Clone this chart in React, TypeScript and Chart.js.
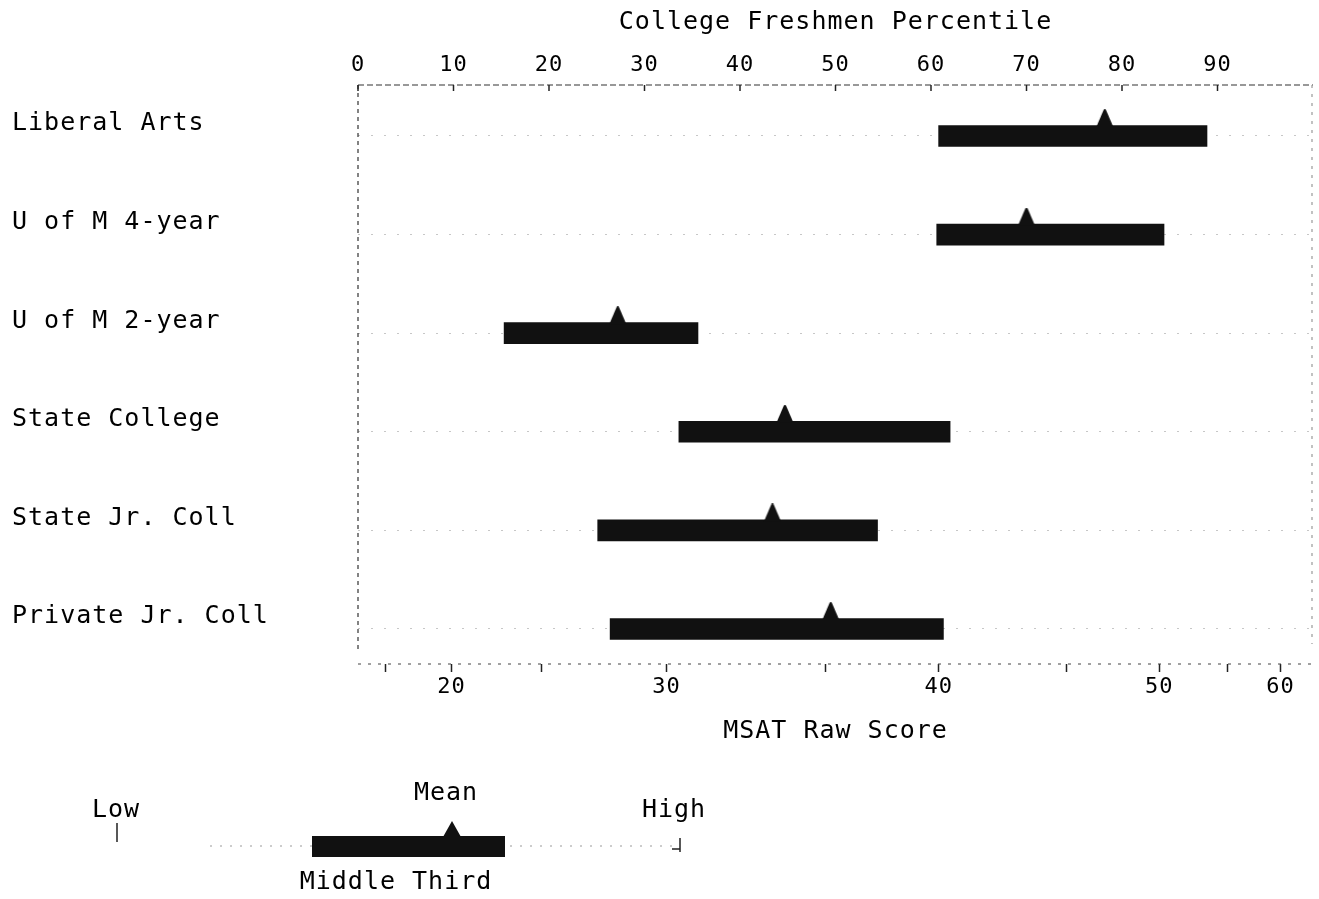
import React, { useEffect, useRef } from "react";
import { Chart, registerables } from "chart.js";

Chart.register(...registerables);

// ---- data ----
const categories = [
  "Liberal Arts",
  "U of M 4-year",
  "U of M 2-year",
  "State College",
  "State Jr. Coll",
  "Private Jr. Coll",
];
// middle third (percentile) – low and high ends of each bar
const middleThirdLow = [60.8, 60.6, 15.3, 33.6, 25.1, 26.4];
const middleThirdHigh = [88.9, 84.4, 35.6, 62.0, 54.4, 61.3];
// mean (percentile)
const meanPercentile = [78.2, 70.0, 27.2, 44.7, 43.4, 49.5];

// top axis: college freshmen percentile ticks
const percentileTicks = [0, 10, 20, 30, 40, 50, 60, 70, 80, 90];
// bottom axis: MSAT raw scores and the percentile at which each falls
const rawScoreTicks = [15, 20, 25, 30, 35, 40, 45, 50, 55, 60];
const rawScorePercentiles = [2.9, 9.8, 19.2, 32.3, 49.0, 60.8, 74.2, 83.9, 91.0, 96.6];
const rawScoreLabeled = [20, 30, 40, 50, 60];

const FONT = "'DejaVu Sans Mono', 'Liberation Mono', monospace";
const INK = "#000";

function makeTriangle(): HTMLCanvasElement {
  const c = document.createElement("canvas");
  c.width = 18;
  c.height = 54;
  const g = c.getContext("2d")!;
  g.fillStyle = "#111";
  g.beginPath();
  g.moveTo(8, 0.5);
  g.quadraticCurveTo(9, -0.5, 10, 0.5);
  g.lineTo(17.5, 18);
  g.lineTo(0.5, 18);
  g.closePath();
  g.fill();
  return c;
}

const spacingPlugin = {
  id: "letterSpacing",
  beforeDraw(chart: any) {
    chart.ctx.letterSpacing = "1px";
  },
};

const framePlugin = {
  id: "frame",
  beforeDatasetsDraw(chart: any) {
    const { ctx, chartArea } = chart;
    const { left, right, top, bottom } = chartArea;
    ctx.save();
    ctx.strokeStyle = "#333";
    ctx.lineWidth = 1.2;
    // top axis line
    ctx.setLineDash([6, 3]);
    ctx.beginPath();
    ctx.moveTo(left, top);
    ctx.lineTo(right, top);
    ctx.stroke();
    // left axis line
    ctx.setLineDash([4, 4]);
    ctx.beginPath();
    ctx.moveTo(left, top);
    ctx.lineTo(left, bottom - 15);
    ctx.stroke();
    // right edge
    ctx.strokeStyle = "#999";
    ctx.setLineDash([3, 6]);
    ctx.beginPath();
    ctx.moveTo(right - 1, top);
    ctx.lineTo(right - 1, bottom - 20);
    ctx.stroke();
    // bottom axis line
    ctx.strokeStyle = "#444";
    ctx.setLineDash([3, 7]);
    ctx.beginPath();
    ctx.moveTo(left, bottom);
    ctx.lineTo(right, bottom);
    ctx.stroke();
    // inward ticks of the top axis
    ctx.setLineDash([]);
    ctx.strokeStyle = "#222";
    ctx.lineWidth = 1.5;
    const xs = chart.scales.x;
    xs.ticks.forEach((t: any) => {
      const px = xs.getPixelForValue(t.value);
      ctx.beginPath();
      ctx.moveTo(px, top);
      ctx.lineTo(px, top + 6);
      ctx.stroke();
    });
    ctx.restore();
  },
};

const keyPlugin = {
  id: "key",
  afterDraw(chart: any) {
    const ctx = chart.ctx;
    ctx.save();
    ctx.letterSpacing = "1px";
    ctx.fillStyle = INK;
    ctx.font = `25px ${FONT}`;
    ctx.textAlign = "center";
    ctx.textBaseline = "middle";
    ctx.fillText("Low", 116, 810);
    ctx.fillText("Mean", 446, 793);
    ctx.fillText("High", 674, 810);
    ctx.fillText("Middle Third", 396, 882);
    // dotted range line
    ctx.strokeStyle = "#999";
    ctx.lineWidth = 1;
    ctx.setLineDash([2, 8]);
    ctx.beginPath();
    ctx.moveTo(210, 846);
    ctx.lineTo(680, 846);
    ctx.stroke();
    ctx.setLineDash([]);
    // low / high ticks
    ctx.strokeStyle = "#222";
    ctx.lineWidth = 1.5;
    ctx.beginPath();
    ctx.moveTo(117, 823);
    ctx.lineTo(117, 842);
    ctx.moveTo(680, 838);
    ctx.lineTo(680, 852);
    ctx.moveTo(672, 849);
    ctx.lineTo(680, 849);
    ctx.stroke();
    // middle third bar
    ctx.fillStyle = "#111";
    ctx.fillRect(312, 836, 193, 21);
    // mean triangle
    ctx.beginPath();
    ctx.moveTo(452, 821);
    ctx.lineTo(461, 837);
    ctx.lineTo(443, 837);
    ctx.closePath();
    ctx.fill();
    ctx.restore();
  },
};

export default function App() {
  const ref = useRef<HTMLCanvasElement | null>(null);

  useEffect(() => {
    document.body.style.margin = "0";
    if (!ref.current) return;
    const tri = makeTriangle();
    const chart = new Chart(ref.current, {
      type: "bar",
      data: {
        datasets: [
          {
            type: "scatter" as any,
            label: "Mean",
            data: meanPercentile.map((m, i) => ({ x: m, y: i })),
            pointStyle: tri as any,
            pointRadius: 5,
            pointHoverRadius: 5,
            showLine: false,
            xAxisID: "x",
            yAxisID: "y",
            order: 1,
          } as any,
          {
            type: "bar",
            label: "Middle Third",
            indexAxis: "y",
            data: middleThirdLow.map((lo, i) => ({ x: [lo, middleThirdHigh[i]], y: i })) as any,
            backgroundColor: "#111",
            borderWidth: 0,
            borderSkipped: false,
            barThickness: 21,
            xAxisID: "x",
            yAxisID: "y",
            order: 2,
          } as any,
        ],
      },
      options: {
        animation: false,
        responsive: false,
        devicePixelRatio: 1,
        indexAxis: "y",
        layout: { padding: { left: 12, right: 1, top: 0, bottom: 145 } },
        plugins: {
          legend: { display: false },
          tooltip: { enabled: false },
        },
        scales: {
          x: {
            type: "linear",
            position: "top",
            min: 0,
            max: 100,
            offset: false,
            afterBuildTicks: (s: any) => {
              s.ticks = percentileTicks.map((v) => ({ value: v }));
            },
            ticks: {
              font: { family: FONT, size: 22 },
              color: INK,
              padding: 7,
              autoSkip: false,
              maxRotation: 0,
            },
            grid: { display: false, drawTicks: false, offset: false },
            border: { display: false },
            title: {
              display: true,
              text: "College Freshmen Percentile",
              font: { family: FONT, size: 25 },
              color: INK,
              padding: { top: 7, bottom: 0 },
            },
            afterFit: (s: any) => {
              s.height = 85;
            },
          },
          x2: {
            type: "linear",
            position: "bottom",
            min: 0,
            max: 100,
            offset: false,
            afterBuildTicks: (s: any) => {
              s.ticks = rawScorePercentiles.map((v) => ({ value: v }));
            },
            ticks: {
              callback: (_v: any, i: number) =>
                rawScoreLabeled.includes(rawScoreTicks[i]) ? String(rawScoreTicks[i]) : "",
              font: { family: FONT, size: 22 },
              color: INK,
              padding: 2,
              autoSkip: false,
              maxRotation: 0,
            },
            grid: {
              drawOnChartArea: false,
              drawTicks: true,
              tickLength: 8,
              tickColor: "#222",
              tickWidth: 1.5,
              offset: false,
            },
            border: { display: false },
            title: {
              display: true,
              text: "MSAT Raw Score",
              font: { family: FONT, size: 25 },
              color: INK,
              padding: { top: 0, bottom: 8 },
            },
            afterFit: (s: any) => {
              s.height = 90;
            },
          },
          y: {
            type: "linear",
            reverse: true,
            min: -0.517,
            max: 5.355,
            offset: false,
            afterBuildTicks: (s: any) => {
              s.ticks = categories.map((_, i) => ({ value: i }));
            },
            ticks: {
              callback: (v: any) => categories[v as number] ?? "",
              font: { family: FONT, size: 25 },
              color: INK,
              crossAlign: "far",
              labelOffset: -12,
              autoSkip: false,
              padding: 0,
            },
            grid: { color: "rgba(0,0,0,0.22)", lineWidth: 1, drawTicks: false, offset: false },
            border: { display: false, dash: [2, 11] },
            afterFit: (s: any) => {
              s.width = 346;
            },
          },
        },
      } as any,
      plugins: [spacingPlugin, framePlugin, keyPlugin],
    });
    return () => chart.destroy();
  }, []);

  return (
    <div style={{ position: "fixed", left: 0, top: 0, width: 1319, height: 899, background: "#fff" }}>
      <canvas ref={ref} width={1319} height={899} style={{ display: "block" }} />
    </div>
  );
}
